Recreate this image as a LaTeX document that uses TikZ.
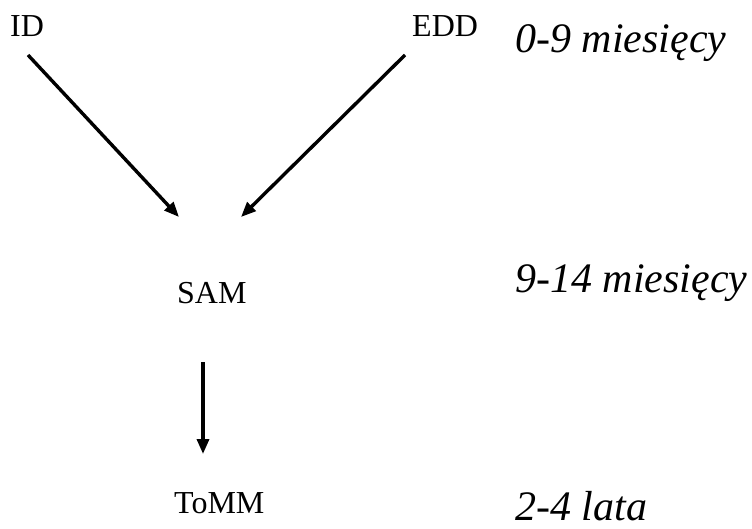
\documentclass[tikz,border=0pt]{standalone}
\usepackage{fontspec}
\setmainfont{Liberation Serif}
\usetikzlibrary{arrows.meta}
\begin{document}
\begin{tikzpicture}[x=1pt,y=-1pt,
  lbl/.style={inner sep=0pt,anchor=base west,font=\fontsize{32}{38}\selectfont},
  age/.style={inner sep=0pt,anchor=base west,font=\fontsize{42}{50}\selectfont\itshape},
  arr/.style={line width=3.4pt,-{Triangle[length=15pt,width=12pt]}}]
\useasboundingbox (0,0) rectangle (752,529);
\node[lbl] (ID) at (10,37) {ID};
\node[lbl] (EDD) at (412,37) {EDD};
\node[lbl] (SAM) at (177,303) {SAM};
\node[lbl] (ToMM) at (174,513) {ToMM};
\node[age] (a1) at (515,53) {0-9 miesięcy};
\node[age] (a2) at (515,293) {9-14 miesięcy};
\node[age] (a3) at (515,520) {2-4 lata};
\coordinate (idS) at (28,55);
\coordinate (eddS) at (405,55);
\coordinate (samL) at (179,217);
\coordinate (samR) at (241,217);
\coordinate (samS) at (203,362);
\coordinate (tommN) at (203,454);
\draw[arr] (idS) -- (samL);
\draw[arr] (eddS) -- (samR);
\draw[arr] (samS) -- (tommN);
\end{tikzpicture}
\end{document}
